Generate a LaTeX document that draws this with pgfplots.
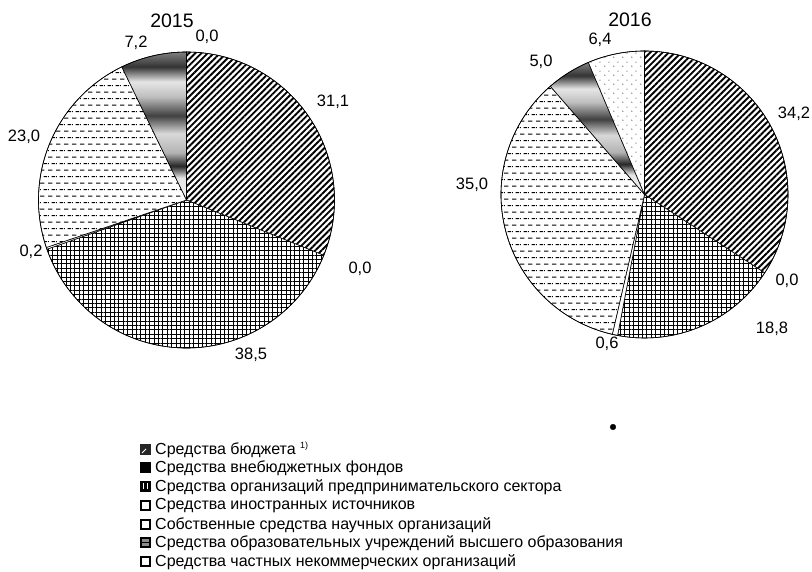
\documentclass[border=0pt]{standalone}
\usepackage{fontspec}
\setmainfont{Liberation Sans}
\usepackage{pgfplots}
\pgfplotsset{compat=1.18}
\usetikzlibrary{patterns,patterns.meta}

% horizontal dashes, staggered rows
\pgfdeclarepattern{name=dashrows, parameters={},
  bottom left={\pgfpoint{0pt}{0pt}}, top right={\pgfpoint{8pt}{13.4pt}},
  tile size={\pgfpoint{8pt}{13.4pt}},
  code={\pgfsetlinewidth{1pt}\pgfsetbuttcap
    \pgfpathmoveto{\pgfpoint{0pt}{3pt}}\pgfpathlineto{\pgfpoint{5pt}{3pt}}
    \pgfpathmoveto{\pgfpoint{4pt}{9.7pt}}\pgfpathlineto{\pgfpoint{8pt}{9.7pt}}
    \pgfpathmoveto{\pgfpoint{0pt}{9.7pt}}\pgfpathlineto{\pgfpoint{1pt}{9.7pt}}
    \pgfusepath{stroke}}}
% sparse dots
\pgfdeclarepattern{name=sparsedots, parameters={},
  bottom left={\pgfpoint{0pt}{0pt}}, top right={\pgfpoint{9pt}{9pt}},
  tile size={\pgfpoint{9pt}{9pt}},
  code={\pgfpathcircle{\pgfpoint{2pt}{2pt}}{0.6pt}
    \pgfpathcircle{\pgfpoint{6.5pt}{6.5pt}}{0.6pt}\pgfusepath{fill}}}
% metallic bands
\pgfdeclareverticalshading{metal}{100bp}{color(0bp)=(black!5); color(25bp)=(black!5);
  color(32.5bp)=(black!10); color(36.5bp)=(black!85); color(41bp)=(black!30);
  color(47.5bp)=(black!15); color(53.5bp)=(black!75); color(60bp)=(black!25);
  color(65bp)=(black!10); color(70bp)=(black!80); color(75bp)=(black!50);
  color(100bp)=(black!50)}

\tikzset{
  sl/.style={draw=black, line width=0.6pt},
  budget/.style={sl, preaction={fill=white}, pattern={Lines[angle=45,distance=4.4pt,line width=1.9pt]}},
  extra/.style={sl, fill=black},
  firms/.style={sl, preaction={fill=white}, pattern={Hatch[angle=0,distance=4.4pt,line width=1pt]}},
  foreign/.style={sl, fill=white},
  own/.style={sl, preaction={fill=white}, pattern=dashrows},
  higher/.style={sl, shade, shading=metal},
  private/.style={sl, preaction={fill=white}, pattern=sparsedots},
  val/.style={font=\fontsize{16.5}{19}\selectfont},
  leg/.style={anchor=west, font=\fontsize{16}{18}\selectfont, inner sep=0pt},
}

% slices clockwise from 12 o'clock
\newcommand\piestart{\gdef\cum{0}}
\newcommand\slice[5]{%
  \pgfmathsetmacro\sa{90-3.6*\cum}%
  \pgfmathsetmacro\sb{90-3.6*(\cum+#4)}%
  \ifdim #4pt>0pt
    \path[#5] (axis cs:#1,#2) -- ++(\sa:#3pt) arc[start angle=\sa,end angle=\sb,radius=#3pt] -- cycle;
  \fi
  \pgfmathsetmacro\tmp{\cum+#4}\xdef\cum{\tmp}%
}

\begin{document}
\begin{tikzpicture}
\begin{axis}[
  width=812pt, height=572pt, scale only axis,
  xmin=0, xmax=812, ymin=0, ymax=572,
  hide axis, clip=false,
]
% 2015
\pgfplotsextra{%
  \piestart
  \slice{186.5}{372}{148}{31.1}{budget}
  \slice{186.5}{372}{148}{0.0}{extra}
  \slice{186.5}{372}{148}{38.5}{firms}
  \slice{186.5}{372}{148}{0.2}{foreign}
  \slice{186.5}{372}{148}{23.0}{own}
  \slice{186.5}{372}{148}{7.2}{higher}
  \slice{186.5}{372}{148}{0.0}{private}
  \draw[line width=0.6pt] (axis cs:186.5,372) circle (148pt);
}
% 2016
\pgfplotsextra{%
  \piestart
  \slice{644.5}{377.5}{143.5}{34.2}{budget}
  \slice{644.5}{377.5}{143.5}{0.0}{extra}
  \slice{644.5}{377.5}{143.5}{18.8}{firms}
  \slice{644.5}{377.5}{143.5}{0.6}{foreign}
  \slice{644.5}{377.5}{143.5}{35.0}{own}
  \slice{644.5}{377.5}{143.5}{5.0}{higher}
  \slice{644.5}{377.5}{143.5}{6.4}{private}
  \draw[line width=0.6pt] (axis cs:644.5,377.5) circle (143.5pt);
}
% stray dot
\addplot[only marks, mark=*, mark size=2.8pt, black] coordinates {(613,145)};

% titles
\node[font=\fontsize{19.5}{22}\selectfont] at (axis cs:172,551) {2015};
\node[font=\fontsize{19.5}{22}\selectfont] at (axis cs:630,552) {2016};
% value labels 2015
\node[val] at (axis cs:207,535) {0,0};
\node[val] at (axis cs:136,529) {7,2};
\node[val] at (axis cs:333,470) {31,1};
\node[val] at (axis cs:24,435) {23,0};
\node[val] at (axis cs:31,320) {0,2};
\node[val] at (axis cs:360,303) {0,0};
\node[val] at (axis cs:251,217) {38,5};
% value labels 2016
\node[val] at (axis cs:600,532) {6,4};
\node[val] at (axis cs:541,510) {5,0};
\node[val] at (axis cs:794,458) {34,2};
\node[val] at (axis cs:472,387) {35,0};
\node[val] at (axis cs:787,291) {0,0};
\node[val] at (axis cs:772,243) {18,8};
\node[val] at (axis cs:607,228) {0,6};

% legend
\fill[black!85] (axis cs:140,117) rectangle (axis cs:151,128);
\draw[white, line width=0.8pt] (axis cs:142,119) -- (axis cs:146,123);
\fill[black] (axis cs:140,99) rectangle (axis cs:151,110);
\fill[black] (axis cs:140,80) rectangle (axis cs:151,91);
\fill[white] (axis cs:143,82.5) rectangle (axis cs:144.3,88.5);
\fill[white] (axis cs:146.5,82.5) rectangle (axis cs:147.8,88.5);
\draw[line width=2pt] (axis cs:141,62) rectangle (axis cs:150,71);
\draw[line width=2pt] (axis cs:141,43) rectangle (axis cs:150,52);
\draw[line width=1.8pt, fill=black!45] (axis cs:141,25) rectangle (axis cs:150,34);
\draw[black, line width=1.2pt] (axis cs:142,29.5) -- (axis cs:149,29.5);
\draw[line width=2pt] (axis cs:141,6) rectangle (axis cs:150,15);

\node[leg] at (axis cs:155,122) {Средства бюджета \raisebox{6pt}{\fontsize{9}{10}\selectfont 1)}};
\node[leg] at (axis cs:155,104) {Средства внебюджетных фондов};
\node[leg] at (axis cs:155,85) {Средства организаций предпринимательского сектора};
\node[leg] at (axis cs:155,66) {Средства иностранных источников};
\node[leg] at (axis cs:155,47) {Собственные средства научных организаций};
\node[leg] at (axis cs:155,29) {Средства образовательных учреждений высшего образования};
\node[leg] at (axis cs:155,10) {Средства частных некоммерческих организаций};
\end{axis}
\pgfresetboundingbox
\useasboundingbox (0,0) rectangle (812pt,572pt);
\end{tikzpicture}
\end{document}
